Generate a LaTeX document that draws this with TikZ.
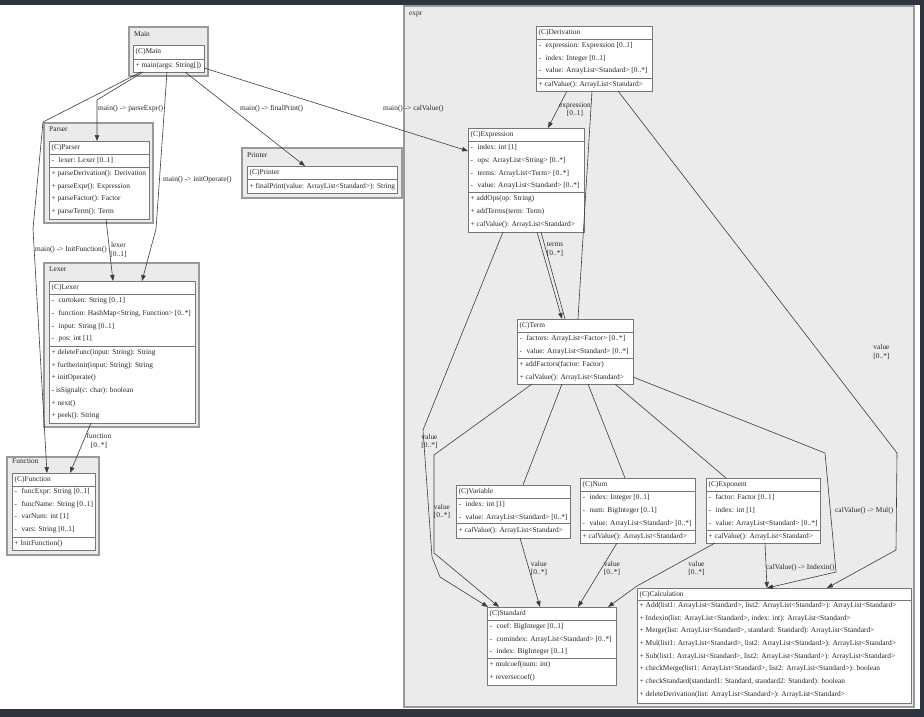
\documentclass[tikz,border=0pt]{standalone}
\usepackage{fontspec}
\setmainfont{Liberation Serif}
\usetikzlibrary{arrows.meta}

\definecolor{pkgfill}{HTML}{EBEBEB}
\definecolor{pkgdraw}{HTML}{9A9A9A}
\definecolor{clsdraw}{HTML}{767676}
\definecolor{edgecol}{HTML}{3C3C3C}
\definecolor{txtcol}{HTML}{262626}
\definecolor{screenband}{HTML}{2E3440}

\newcommand\umlfont{\fontsize{7.4}{8.8}\selectfont}
% box given by its top-left and bottom-right corners
\newcommand\umlbox[6]{\node[#1, minimum width={(#5)-(#3)}, minimum height={(#6)-(#4)}] (#2) at (#3,#4) {};}
% one text row of a class compartment
\newcommand\rowtxt[4]{\node[rowtext] (#1) at (#2,#3) {#4};}
% compartment divider, #2 = distance below the top edge
\newcommand\divat[2]{\draw[cline] ([yshift=-#2pt]#1.north west) -- ([yshift=-#2pt]#1.north east);}
\newcommand\priv{-\hspace{4.5pt}}

\begin{document}
\begin{tikzpicture}[x=1pt, y=-1pt, text=txtcol,
  pkg/.style={draw=pkgdraw, fill=pkgfill, line width=1.1pt, inner sep=0pt, outer sep=0pt, anchor=north west},
  cls/.style={draw=clsdraw, fill=white, line width=0.7pt, inner sep=0pt, outer sep=0pt, anchor=north west},
  cline/.style={draw=clsdraw, line width=0.7pt},
  rowtext/.style={anchor=west, inner sep=0pt, text height=5.2pt, text depth=1.6pt, font=\umlfont},
  elabel/.style={inner sep=0pt, font=\umlfont, align=center},
  conn/.style={draw=edgecol, line width=0.6pt},
  arr/.style={conn, -{Triangle[length=6pt,width=4.4pt]}}]

\useasboundingbox (0,0) rectangle (924,717);
\fill[white] (0,0) rectangle (924,717);
\fill[screenband] (0,0) rectangle (924,5);
\fill[screenband] (0,709) rectangle (924,717);
\fill[screenband] (920,0) rectangle (924,717);

% ---------- packages ----------
\umlbox{pkg}{pmain}{129}{27}{208}{76}
\rowtxt{pmain-l}{134}{34.3}{Main}
\umlbox{pkg}{pparser}{44}{123}{153}{223}
\rowtxt{pparser-l}{49}{130}{Parser}
\umlbox{pkg}{plexer}{44}{263}{199}{427}
\rowtxt{plexer-l}{49}{270}{Lexer}
\umlbox{pkg}{pfunction}{7}{457}{99}{555}
\rowtxt{pfunction-l}{12}{462}{Function}
\umlbox{pkg}{pprinter}{242}{148}{402}{198}
\rowtxt{pprinter-l}{247}{156}{Printer}
\umlbox{pkg}{pexpr}{404}{6}{914}{707}
\rowtxt{pexpr-l}{409}{14}{expr}

% ---------- classes (boxes first, connectors drawn over package fills) ----------
\umlbox{cls}{main}{133}{45}{204}{72}
\umlbox{cls}{parser}{49}{141}{149}{219}
\umlbox{cls}{lexer}{49}{281}{195}{423}
\umlbox{cls}{function}{12}{473}{95}{550}
\umlbox{cls}{printer}{247}{166}{397}{193}
\umlbox{cls}{derivation}{536}{26}{652}{91}
\umlbox{cls}{expression}{468}{128}{584}{232}
\umlbox{cls}{term}{517}{319}{633}{384}
\umlbox{cls}{variable}{456}{485}{570}{538}
\umlbox{cls}{num}{580}{478}{695}{543}
\umlbox{cls}{exponent}{706}{478}{820}{543}
\umlbox{cls}{standard}{487}{607}{616}{685}
\umlbox{cls}{calculation}{637}{588}{911}{703}

% ---------- connectors ----------
\draw[arr] ([xshift=10pt]main.south west) -- (97,100) -- ([xshift=48pt]parser.north west);
\draw[arr] ([xshift=8pt]main.south west) -- (43,122) -- (33,229) -- ([xshift=35pt]function.north west);
\draw[arr] ([xshift=34pt]main.south west) -- (156,229) -- ([xshift=93pt]lexer.north west);
\draw[arr] ([xshift=52pt]main.south west) -- ([xshift=58pt]printer.north west);
\draw[arr] ([yshift=4pt]main.south east) -- ([yshift=-23pt]expression.north west);
\draw[arr] ([xshift=57pt]parser.south west) -- ([xshift=64pt]lexer.north west);
\draw[arr] ([xshift=42pt]lexer.south west) -- ([xshift=58pt]function.north west);

\draw[arr] ([xshift=31pt]derivation.south west) -- ([xshift=80pt]expression.north west);
\draw[conn] ([xshift=56pt]derivation.south west) -- ([xshift=61pt]term.north west);
\draw[arr] ([xshift=69pt]expression.south west) -- ([xshift=45pt]term.north west);
\draw[conn] ([xshift=73pt]expression.south west) -- ([xshift=48pt]term.north west);
\draw[arr] ([xshift=35pt]expression.south west) -- (423,430) -- (432,557) -- (440,577) -- ([xshift=1pt]standard.north west);
\draw[arr] ([xshift=15pt]term.south west) -- (434,455) -- (434,553) -- ([xshift=12pt]standard.north west);
\draw[conn] ([xshift=45pt]term.south west) -- ([xshift=67pt]variable.north west);
\draw[conn] ([xshift=71pt]term.south west) -- ([xshift=45pt]num.north west);
\draw[conn] ([xshift=98pt]term.south west) -- ([xshift=20pt]exponent.north west);
\draw[arr] ([yshift=7pt]term.south east) -- (825,453) -- (836,572) -- ([xshift=130pt]calculation.north west);
\draw[arr] ([xshift=59pt]exponent.south west) -- ([xshift=130pt]calculation.north west);
\draw[arr] ([xshift=9pt]exponent.south west) -- (637,586) -- ([xshift=121pt]standard.north west);
\draw[arr] ([xshift=64pt]variable.south west) -- ([xshift=53pt]standard.north west);
\draw[arr] ([xshift=37pt]num.south west) -- ([xshift=91pt]standard.north west);
\draw[arr] ([xshift=82pt]derivation.south west) -- (897,453) -- (896,550) -- ([xshift=190pt]calculation.north west);

% ---------- class compartments ----------
\divat{main}{14}
\rowtxt{main-h}{135.5}{52}{(C)Main}
\rowtxt{main-m1}{135.5}{65.5}{+ main(args: String[])}

\divat{parser}{13.5}
\divat{parser}{26}
\rowtxt{parser-h}{51.5}{148}{(C)Parser}
\rowtxt{parser-a1}{51.5}{161}{\priv lexer: Lexer [0..1]}
\rowtxt{parser-m1}{51.5}{173.7}{+ parseDerivation(): Derivation}
\rowtxt{parser-m2}{51.5}{186.4}{+ parseExpr(): Expression}
\rowtxt{parser-m3}{51.5}{199.1}{+ parseFactor(): Factor}
\rowtxt{parser-m4}{51.5}{211.8}{+ parseTerm(): Term}

\divat{lexer}{13.5}
\divat{lexer}{65}
\rowtxt{lexer-h}{51.5}{288}{(C)Lexer}
\rowtxt{lexer-a1}{51.5}{300.7}{\priv curtoken: String [0..1]}
\rowtxt{lexer-a2}{51.5}{313.5}{\priv function: HashMap<String, Function> [0..*]}
\rowtxt{lexer-a3}{51.5}{326.3}{\priv input: String [0..1]}
\rowtxt{lexer-a4}{51.5}{339}{\priv pos: int [1]}
\rowtxt{lexer-m1}{51.5}{352.5}{+ deleteFunc(input: String): String}
\rowtxt{lexer-m2}{51.5}{365.2}{+ furtherinit(input: String): String}
\rowtxt{lexer-m3}{51.5}{377.9}{+ initOperate()}
\rowtxt{lexer-m4}{51.5}{390.6}{- isSignal(c: char): boolean}
\rowtxt{lexer-m5}{51.5}{403.3}{+ next()}
\rowtxt{lexer-m6}{51.5}{416}{+ peek(): String}

\divat{function}{13.5}
\divat{function}{64}
\rowtxt{function-h}{14.5}{480}{(C)Function}
\rowtxt{function-a1}{14.5}{491.7}{\priv funcExpr: String [0..1]}
\rowtxt{function-a2}{14.5}{504.4}{\priv funcName: String [0..1]}
\rowtxt{function-a3}{14.5}{517.1}{\priv varNum: int [1]}
\rowtxt{function-a4}{14.5}{530}{\priv vars: String [0..1]}
\rowtxt{function-m1}{14.5}{543.5}{+ InitFunction()}

\divat{printer}{13.5}
\rowtxt{printer-h}{249.5}{173}{(C)Printer}
\rowtxt{printer-m1}{249.5}{186.3}{+ finalPrint(value: ArrayList<Standard>): String}

\divat{derivation}{13.5}
\divat{derivation}{52}
\rowtxt{derivation-h}{538.5}{33}{(C)Derivation}
\rowtxt{derivation-a1}{538.5}{45.7}{\priv expression: Expression [0..1]}
\rowtxt{derivation-a2}{538.5}{58.4}{\priv index: Integer [0..1]}
\rowtxt{derivation-a3}{538.5}{71.1}{\priv value: ArrayList<Standard> [0..*]}
\rowtxt{derivation-m1}{538.5}{84.5}{+ calValue(): ArrayList<Standard>}

\divat{expression}{13.5}
\divat{expression}{64.5}
\rowtxt{expression-h}{470.5}{135}{(C)Expression}
\rowtxt{expression-a1}{470.5}{148}{\priv index: int [1]}
\rowtxt{expression-a2}{470.5}{160.7}{\priv ops: ArrayList<String> [0..*]}
\rowtxt{expression-a3}{470.5}{173.4}{\priv terms: ArrayList<Term> [0..*]}
\rowtxt{expression-a4}{470.5}{186.1}{\priv value: ArrayList<Standard> [0..*]}
\rowtxt{expression-m1}{470.5}{199}{+ addOps(op: String)}
\rowtxt{expression-m2}{470.5}{211.7}{+ addTerms(term: Term)}
\rowtxt{expression-m3}{470.5}{224.4}{+ calValue(): ArrayList<Standard>}

\divat{term}{13.5}
\divat{term}{39.5}
\rowtxt{term-h}{519.5}{326}{(C)Term}
\rowtxt{term-a1}{519.5}{339}{\priv factors: ArrayList<Factor> [0..*]}
\rowtxt{term-a2}{519.5}{351.7}{\priv value: ArrayList<Standard> [0..*]}
\rowtxt{term-m1}{519.5}{365}{+ addFactors(factor: Factor)}
\rowtxt{term-m2}{519.5}{377.7}{+ calValue(): ArrayList<Standard>}

\divat{variable}{13.5}
\divat{variable}{38.5}
\rowtxt{variable-h}{458.5}{492}{(C)Variable}
\rowtxt{variable-a1}{458.5}{505}{\priv index: int [1]}
\rowtxt{variable-a2}{458.5}{517.6}{\priv value: ArrayList<Standard> [0..*]}
\rowtxt{variable-m1}{458.5}{530.8}{+ calValue(): ArrayList<Standard>}

\divat{num}{13.5}
\divat{num}{52.5}
\rowtxt{num-h}{582.5}{485}{(C)Num}
\rowtxt{num-a1}{582.5}{498}{\priv index: Integer [0..1]}
\rowtxt{num-a2}{582.5}{510.7}{\priv num: BigInteger [0..1]}
\rowtxt{num-a3}{582.5}{523.4}{\priv value: ArrayList<Standard> [0..*]}
\rowtxt{num-m1}{582.5}{537}{+ calValue(): ArrayList<Standard>}

\divat{exponent}{13.5}
\divat{exponent}{52.5}
\rowtxt{exponent-h}{708.5}{485}{(C)Exponent}
\rowtxt{exponent-a1}{708.5}{498}{\priv factor: Factor [0..1]}
\rowtxt{exponent-a2}{708.5}{510.7}{\priv index: int [1]}
\rowtxt{exponent-a3}{708.5}{523.4}{\priv value: ArrayList<Standard> [0..*]}
\rowtxt{exponent-m1}{708.5}{537}{+ calValue(): ArrayList<Standard>}

\divat{standard}{13}
\divat{standard}{51}
\rowtxt{standard-h}{489.5}{613.5}{(C)Standard}
\rowtxt{standard-a1}{489.5}{626.5}{\priv coef: BigInteger [0..1]}
\rowtxt{standard-a2}{489.5}{639.2}{\priv comindex: ArrayList<Standard> [0..*]}
\rowtxt{standard-a3}{489.5}{651.9}{\priv index: BigInteger [0..1]}
\rowtxt{standard-m1}{489.5}{664.8}{+ mulcoef(num: int)}
\rowtxt{standard-m2}{489.5}{677.5}{+ reversecoef()}

\divat{calculation}{12.5}
\rowtxt{calculation-h}{639.5}{594.3}{(C)Calculation}
\rowtxt{calculation-m1}{639.5}{605.5}{+ Add(list1: ArrayList<Standard>, list2: ArrayList<Standard>): ArrayList<Standard>}
\rowtxt{calculation-m2}{639.5}{618.2}{+ Indexin(list: ArrayList<Standard>, index: int): ArrayList<Standard>}
\rowtxt{calculation-m3}{639.5}{630.9}{+ Merge(list: ArrayList<Standard>, standard: Standard): ArrayList<Standard>}
\rowtxt{calculation-m4}{639.5}{643.6}{+ Mul(list1: ArrayList<Standard>, list2: ArrayList<Standard>): ArrayList<Standard>}
\rowtxt{calculation-m5}{639.5}{656.3}{+ Sub(list1: ArrayList<Standard>, list2: ArrayList<Standard>): ArrayList<Standard>}
\rowtxt{calculation-m6}{639.5}{669}{+ checkMerge(list1: ArrayList<Standard>, list2: ArrayList<Standard>): boolean}
\rowtxt{calculation-m7}{639.5}{681.7}{+ checkStandard(standard1: Standard, standard2: Standard): boolean}
\rowtxt{calculation-m8}{639.5}{694.4}{+ deleteDerivation(list: ArrayList<Standard>): ArrayList<Standard>}

% ---------- connector labels ----------
\node[rowtext] (l-parse) at (98,109) {main() -> parseExpr()};
\node[rowtext] (l-initf) at (35,250) {main() -> InitFunction()};
\node[rowtext] (l-initop) at (163,180) {main() -> initOperate()};
\node[rowtext] (l-final) at (240,109) {main() -> finalPrint()};
\node[rowtext] (l-calv) at (383,109) {main() -> calValue()};
\node[elabel] (l-lexer) at (118.5,250) {lexer\\{}[0..1]};
\node[elabel] (l-func) at (99,440.5) {function\\{}[0..*]};
\node[elabel] (l-expr) at (575,109.5) {expression\\{}[0..1]};
\node[elabel] (l-terms) at (555,249.5) {terms\\{}[0..*]};
\node[elabel] (l-ev) at (429.5,441.5) {value\\{}[0..*]};
\node[elabel] (l-tv) at (442,511.5) {value\\{}[0..*]};
\node[elabel] (l-vv) at (539,568.5) {value\\{}[0..*]};
\node[elabel] (l-nv) at (612,568.5) {value\\{}[0..*]};
\node[elabel] (l-xv) at (696.5,568.5) {value\\{}[0..*]};
\node[elabel] (l-dv) at (881.5,352) {value\\{}[0..*]};
\node[rowtext] (l-mul) at (835,511) {calValue() -> Mul()};
\node[rowtext] (l-idx) at (766,568) {calValue() -> Indexin()};

\end{tikzpicture}
\end{document}
